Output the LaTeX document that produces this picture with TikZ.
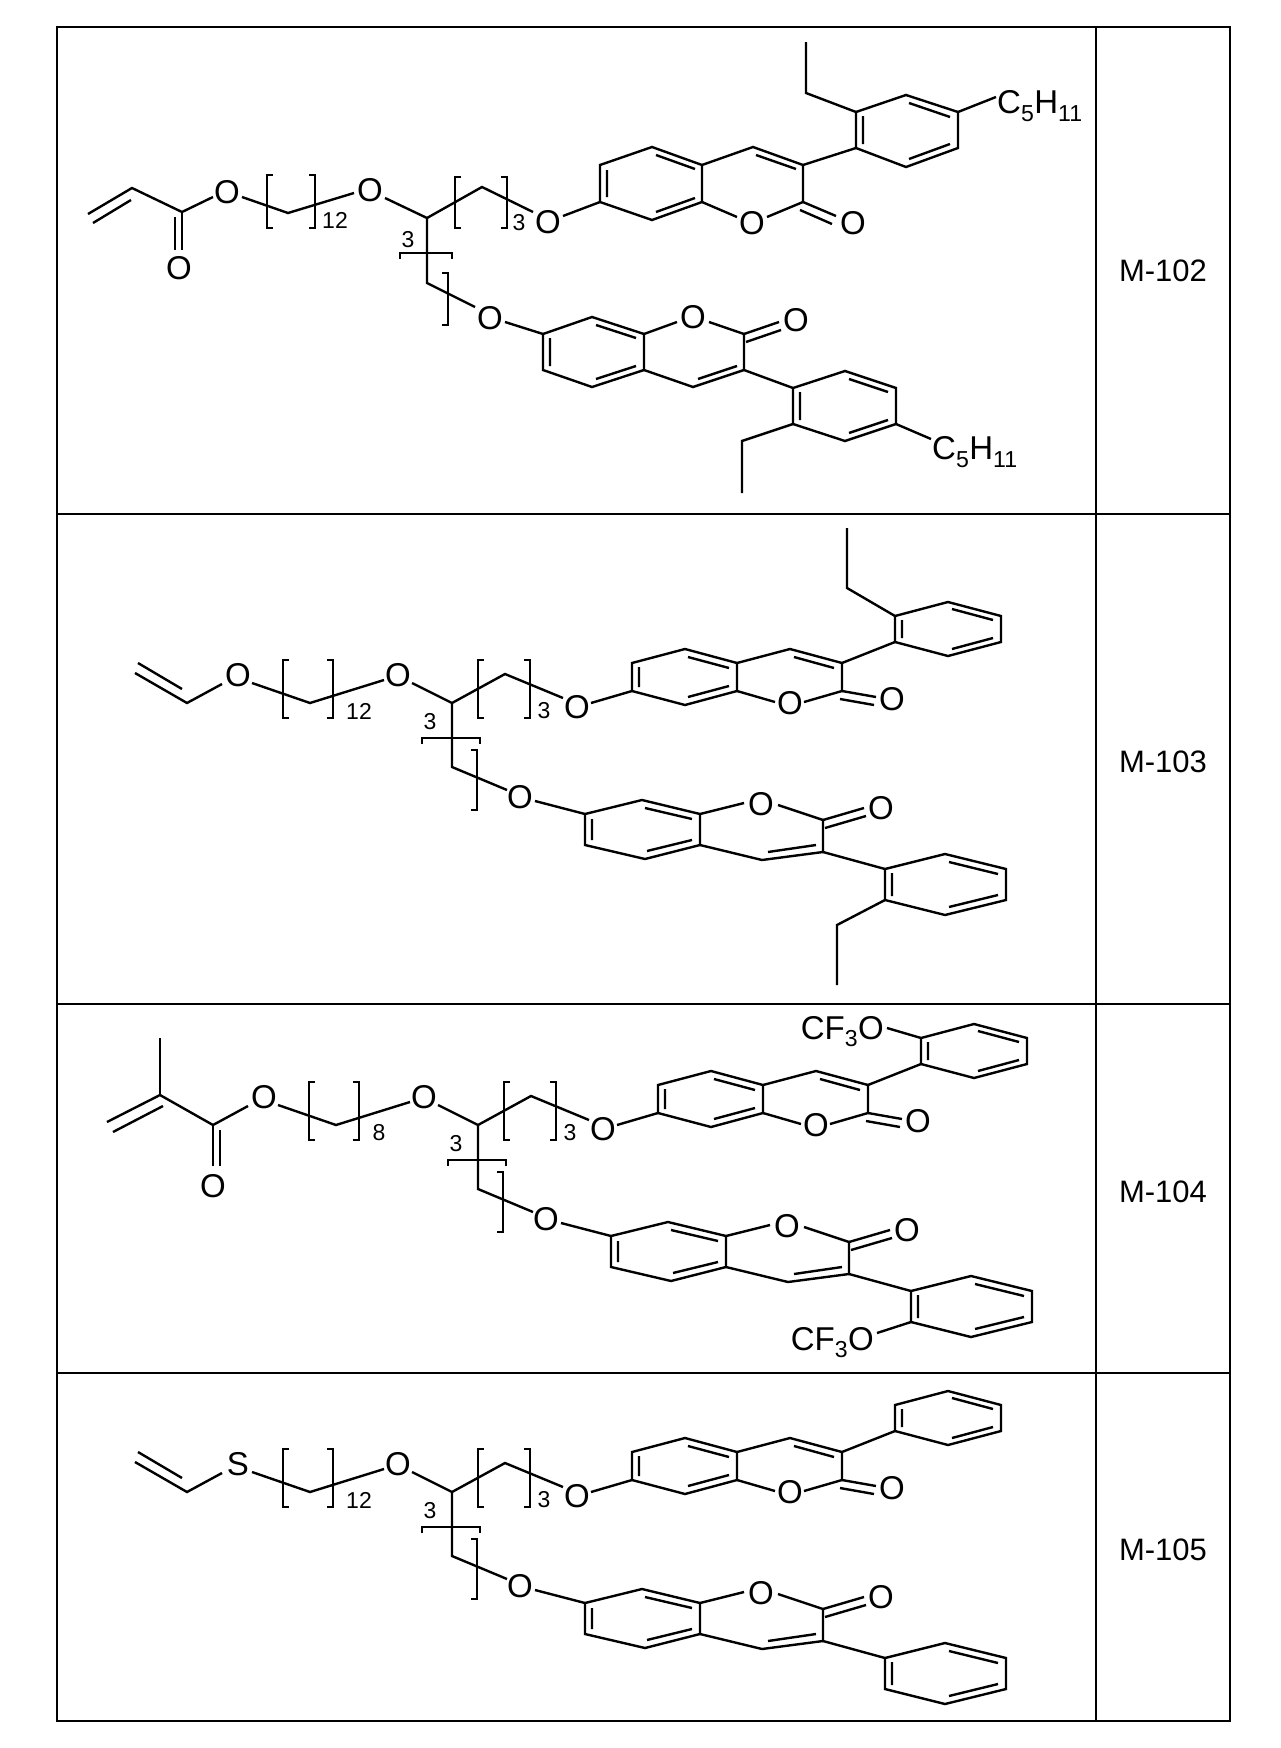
\documentclass[tikz,border=0pt]{standalone}
\usepackage{fontspec}
\setmainfont{Liberation Sans}
\newcommand\brL[3]{\draw[thin] (#1+6,#2)--(#1,#2)--(#1,#3)--(#1+6,#3);}
\newcommand\brR[3]{\draw[thin] (#1-6,#2)--(#1,#2)--(#1,#3)--(#1-6,#3);}
\newcommand\brH[3]{\draw[thin] (#1,#3+6)--(#1,#3)--(#2,#3)--(#2,#3+6);}
\newcommand\coreB{%
 \node[atom] (o2) at (398,675) {O};
 \node[atom] (o3) at (577,707) {O};
 \node[atom] (o4) at (520,797) {O};
 \node[sub] at (544,711) {3};
 \node[sub] at (430,722) {3};
 \draw[bond] (252,683)--(310,703)--(384,680);
 \draw[bond] (412,683)--(452,703)--(505,674)--(563,698);
 \draw[bond] (452,703)--(452,767)--(507,790);
 \brL{283}{660}{718}\brR{333}{660}{718}
 \brL{478}{660}{718}\brR{530}{660}{718}
 \brH{422}{480}{738}\brR{477}{750}{810}
 % upper coumarin
 \draw[bond] (591,703)--(632,691);
 \draw[bond] (632,663)--(685,649)--(737,663)--(737,691)--(685,705)--(632,691)--cycle;
 \draw[bond] (639,667)--(639,687) (688,657)--(729,668) (688,697)--(729,686);
 \draw[bond] (737,663)--(790,649)--(842,663)--(842,691)--(804,702) (775,702)--(737,691);
 \draw[bond] (794,657)--(834,668);
 \node[atom] at (790,703) {O};
 \draw[bond] (842,691)--(876,697) (840,699)--(874,705);
 \node[atom] at (892,699) {O};
 \draw[bond] (842,663)--(895,642);
 \draw[bond] (895,616)--(948,602)--(1001,616)--(1001,642)--(948,656)--(895,642)--cycle;
 \draw[bond] (902,620)--(902,638) (952,609)--(993,620) (952,649)--(993,638);
 % lower coumarin
 \draw[bond] (535,801)--(585,814);
 \draw[bond] (585,814)--(642,800)--(700,814)--(700,845)--(645,859)--(585,845)--cycle;
 \draw[bond] (592,819)--(592,840) (645,808)--(692,819) (647,851)--(692,840);
 \draw[bond] (700,814)--(744,803) (778,805)--(823,820)--(823,852)--(762,860)--(700,845);
 \draw[bond] (768,852)--(816,845);
 \node[atom] at (761,804) {O};
 \draw[bond] (823,820)--(864,808) (825,828)--(866,816);
 \node[atom] at (881,808) {O};
 \draw[bond] (823,852)--(885,869);
 \draw[bond] (885,869)--(945,854)--(1006,869)--(1006,900)--(945,915)--(885,900)--cycle;
 \draw[bond] (892,873)--(892,896) (949,862)--(998,874) (949,907)--(998,895);
}
\newcommand\vinylhead[1]{%
 \draw[bond] (135,673)--(187,703)--(222,684);
 \draw[bond] (138,663)--(182,689);
 \node[atom] at (238,675) {#1};
 \node[sub] at (359,711) {12};
}
\begin{document}
\begin{tikzpicture}[x=1pt,y=-1pt,
 bond/.style={line width=2.4pt},
 thin/.style={line width=1.6pt},
 atom/.style={inner sep=0pt,font=\fontsize{33}{33}\selectfont},
 lab/.style={inner sep=0pt,font=\fontsize{31}{31}\selectfont},
 sub/.style={inner sep=0pt,font=\fontsize{23}{23}\selectfont}]
\useasboundingbox (0,0) rectangle (1280,1748);
% table
\draw[thin] (57,27) rectangle (1230,1721);
\draw[thin] (1096,27)--(1096,1721);
\foreach \y in {514,1004,1373} \draw[thin] (57,\y)--(1230,\y);
\node[lab] (l1) at (1163,271) {M-102};
\node[lab] (l2) at (1163,762) {M-103};
\node[lab] (l3) at (1163,1192) {M-104};
\node[lab] (l4) at (1163,1550) {M-105};
% ===== row 1 =====
\draw[bond] (88,214)--(132,188)--(182,212)--(213,197);
\draw[bond] (93,223)--(131,200);
\draw[bond] (182,212)--(182,250) (175,217)--(175,250);
\node[atom] at (179,268) {O};
\node[atom] at (227,192) {O};
\draw[bond] (242,197)--(288,213)--(354,193);
\brL{267}{175}{228}\brR{315}{175}{228}
\node[sub] at (335,220) {12};
\node[atom] at (370,190) {O};
\draw[bond] (385,198)--(427,218)--(482,187)--(533,212);
\brL{455}{177}{228}\brR{507}{177}{228}
\node[sub] at (519,223) {3};
\node[atom] at (548,222) {O};
\draw[bond] (427,218)--(427,283)--(475,307);
\brH{400}{452}{253}\node[sub] at (408,240) {3};
\brR{448}{273}{325}
\node[atom] at (490,318) {O};
% upper coumarin row1
\draw[bond] (563,216)--(600,202);
\draw[bond] (600,165)--(652,147)--(702,165)--(702,202)--(652,220)--(600,202)--cycle;
\draw[bond] (607,170)--(607,197) (656,155)--(695,169) (656,212)--(695,198);
\draw[bond] (702,165)--(753,147)--(803,165)--(803,202)--(767,217) (737,217)--(702,202);
\draw[bond] (756,155)--(796,169);
\node[atom] at (752,223) {O};
\draw[bond] (803,202)--(836,216) (800,210)--(832,224);
\node[atom] at (853,223) {O};
\draw[bond] (803,165)--(856,148);
\draw[bond] (856,148)--(856,112)--(906,95)--(958,112)--(958,148)--(906,167)--cycle;
\draw[bond] (863,116)--(863,144) (909,103)--(950,117) (909,159)--(950,144);
\draw[bond] (856,112)--(806,93)--(806,42);
\draw[bond] (958,112)--(996,97);
\node[atom,anchor=west] at (997,106) {C\textsubscript{5}H\textsubscript{11}};
% lower coumarin row1
\draw[bond] (505,322)--(543,334);
\draw[bond] (543,334)--(592,317)--(644,334)--(644,370)--(592,387)--(543,370)--cycle;
\draw[bond] (550,338)--(550,366) (596,325)--(636,338) (596,379)--(636,366);
\draw[bond] (644,334)--(677,322) (709,322)--(744,334)--(744,370)--(693,387)--(644,370);
\draw[bond] (698,379)--(737,366);
\node[atom] at (693,317) {O};
\draw[bond] (744,334)--(779,322) (746,342)--(781,330);
\node[atom] at (796,320) {O};
\draw[bond] (744,370)--(793,388);
\draw[bond] (793,388)--(845,371)--(896,388)--(896,424)--(845,441)--(793,424)--cycle;
\draw[bond] (800,392)--(800,420) (849,379)--(888,392) (849,433)--(888,420);
\draw[bond] (793,424)--(742,441)--(742,493);
\draw[bond] (896,424)--(931,439);
\node[atom,anchor=west] at (932,452) {C\textsubscript{5}H\textsubscript{11}};
% ===== row 2 =====
\begin{scope}
 \coreB \vinylhead{O}
 \draw[bond] (895,616)--(847,588)--(847,528);
 \draw[bond] (885,900)--(837,925)--(837,985);
\end{scope}
% ===== row 3 =====
\begin{scope}[shift={(26,422)}]
 \coreB
 \draw[bond] (81,700)--(134,673)--(187,703)--(222,684);
 \draw[bond] (87,710)--(137,684);
 \draw[bond] (134,673)--(134,616);
 \draw[bond] (187,703)--(187,744) (194,708)--(194,744);
 \node[atom] at (187,764) {O};
 \node[atom] at (238,675) {O};
 \node[sub] at (353,711) {8};
 \draw[bond] (895,616)--(861,606);
 \node[atom,anchor=base east] at (858,617) {CF\textsubscript{3}O};
 \draw[bond] (885,900)--(851,911);
 \node[atom,anchor=base east] at (848,928) {CF\textsubscript{3}O};
\end{scope}
% ===== row 4 =====
\begin{scope}[shift={(0,789)}]
 \coreB \vinylhead{S}
\end{scope}
\end{tikzpicture}
\end{document}
